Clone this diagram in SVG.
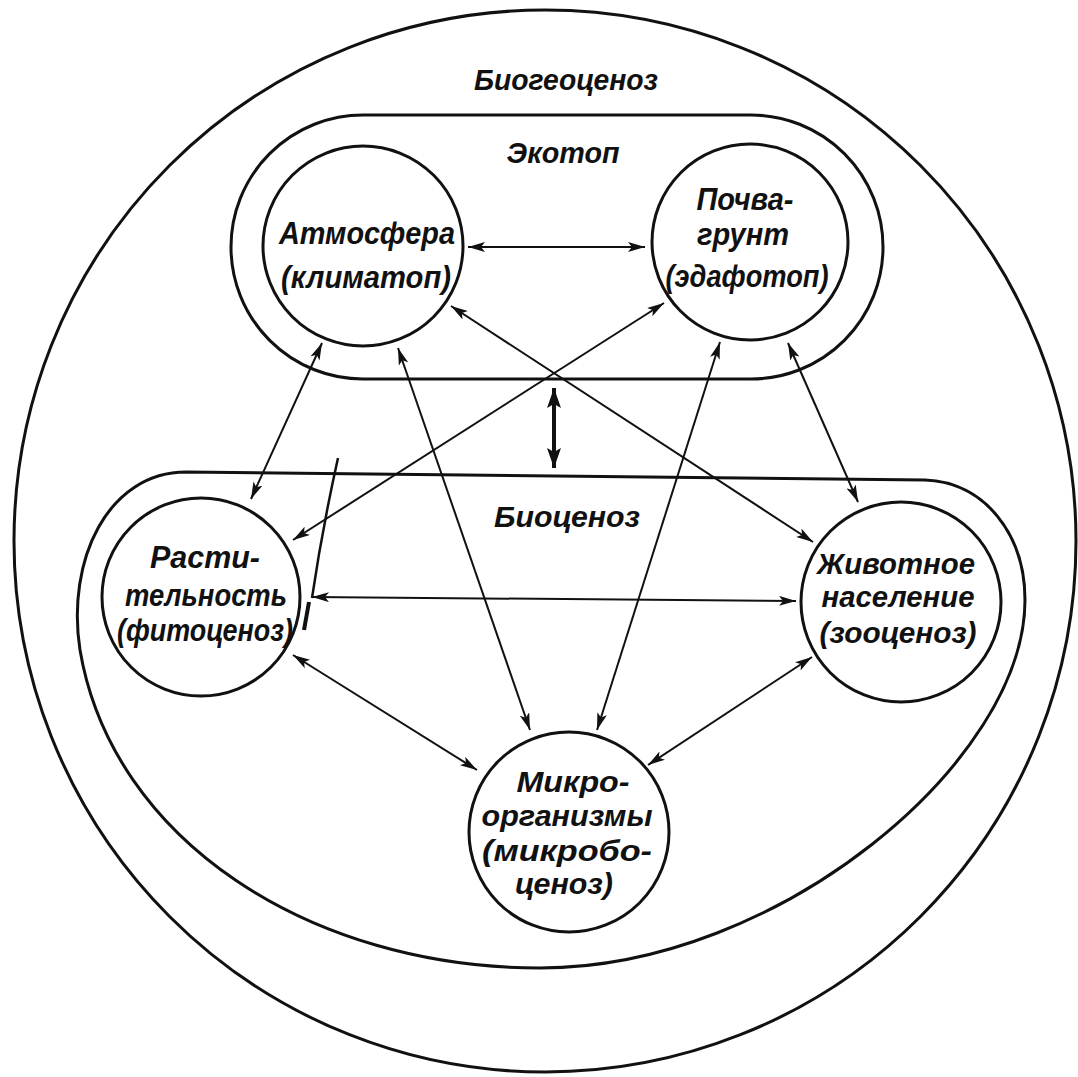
<svg xmlns="http://www.w3.org/2000/svg" width="1078" height="1077" viewBox="0 0 1078 1077">
<style>
.ring{fill:none;stroke:#111;stroke-width:3}
.node{fill:#fff;stroke:#111;stroke-width:3}
.lbl{font-family:"Liberation Sans","DejaVu Sans",sans-serif;font-style:italic;font-weight:bold;fill:#111;text-anchor:middle}
.big{font-size:30px}
.nt{font-size:31px}
.sm{font-size:29px}
.con{fill:none;stroke:#111;stroke-width:2;marker-start:url(#ah);marker-end:url(#ah)}
</style>
<defs>
<marker id="ah" viewBox="0 0 17 10" refX="17" refY="5" markerWidth="17" markerHeight="10" orient="auto-start-reverse" markerUnits="userSpaceOnUse">
<path d="M0,0 L17,5 L0,10 L4,5 z" fill="#111"/>
</marker>
<marker id="ahb" viewBox="0 0 20 14" refX="20" refY="7" markerWidth="20" markerHeight="14" orient="auto-start-reverse" markerUnits="userSpaceOnUse">
<path d="M0,0 L20,7 L0,14 L4,7 z" fill="#111"/>
</marker>
</defs>
<rect width="1078" height="1077" fill="#fff"/>
<g id="biogeocenosis">
<circle class="ring" cx="545" cy="541" r="531"/>
<text class="lbl big" x="566" y="90" textLength="184" lengthAdjust="spacingAndGlyphs">Биогеоценоз</text>
</g>
<g id="ecotope">
<rect class="ring" x="231" y="115" width="652" height="264" rx="132" ry="132"/>
<text class="lbl big" x="563" y="163" textLength="113" lengthAdjust="spacingAndGlyphs">Экотоп</text>
</g>
<g id="biocenosis">
<path class="ring" d="M186 472 L925 480 C985 482 1025 535 1025 600 C1025 760 780 968 540 968 C310 968 112 840 80 650 C66 560 108 472 186 472 Z"/>
<text class="lbl big" x="567" y="527" textLength="146" lengthAdjust="spacingAndGlyphs">Биоценоз</text>
</g>
<g id="connectors">
<line class="con" x1="468" y1="247" x2="645" y2="247"/>
<line class="con" x1="322" y1="343" x2="251" y2="499"/>
<line class="con" x1="398" y1="348" x2="530" y2="730"/>
<line class="con" x1="451" y1="306" x2="813" y2="542"/>
<line class="con" x1="664" y1="303" x2="293" y2="540"/>
<line class="con" x1="720" y1="342" x2="597" y2="730"/>
<line class="con" x1="788" y1="343" x2="858" y2="502"/>
<line class="con" x1="312" y1="597" x2="796" y2="601"/>
<line class="con" x1="293" y1="655" x2="477" y2="770"/>
<line class="con" x1="812" y1="657" x2="648" y2="765"/>
<line x1="554" y1="388" x2="554" y2="468" stroke="#111" stroke-width="4" marker-start="url(#ahb)" marker-end="url(#ahb)"/>
<path d="M338 458 Q322 530 312 598" fill="none" stroke="#111" stroke-width="2.5"/>
<line x1="309" y1="602" x2="304" y2="630" stroke="#111" stroke-width="4"/>
</g>
<g id="atmosphere">
<circle class="node" cx="363" cy="246" r="100"/>
<text class="lbl nt" x="367" y="244" textLength="176" lengthAdjust="spacingAndGlyphs">Атмосфера</text>
<text class="lbl nt" x="366" y="288" textLength="170" lengthAdjust="spacingAndGlyphs">(климатоп)</text>
</g>
<g id="soil">
<circle class="node" cx="750" cy="242" r="98"/>
<text class="lbl nt" x="745" y="210" textLength="97" lengthAdjust="spacingAndGlyphs">Почва-</text>
<text class="lbl nt" x="743" y="245" textLength="92" lengthAdjust="spacingAndGlyphs">грунт</text>
<text class="lbl nt" x="747" y="287" textLength="163" lengthAdjust="spacingAndGlyphs">(эдафотоп)</text>
</g>
<g id="vegetation">
<circle class="node" cx="201" cy="597" r="99"/>
<text class="lbl nt" x="205" y="568" textLength="110" lengthAdjust="spacingAndGlyphs">Расти-</text>
<text class="lbl nt" x="206" y="606" textLength="162" lengthAdjust="spacingAndGlyphs">тельность</text>
<text class="lbl nt" x="205" y="641" textLength="176" lengthAdjust="spacingAndGlyphs">(фитоценоз)</text>
</g>
<g id="animals">
<circle class="node" cx="901" cy="602" r="100"/>
<text class="lbl sm" x="896" y="574" textLength="158" lengthAdjust="spacingAndGlyphs">Животное</text>
<text class="lbl sm" x="898" y="607" textLength="153" lengthAdjust="spacingAndGlyphs">население</text>
<text class="lbl sm" x="898" y="643" textLength="157" lengthAdjust="spacingAndGlyphs">(зооценоз)</text>
</g>
<g id="microorganisms">
<circle class="node" cx="569" cy="832" r="100"/>
<text class="lbl sm" x="573" y="792" textLength="113" lengthAdjust="spacingAndGlyphs">Микро-</text>
<text class="lbl sm" x="567" y="826" textLength="171" lengthAdjust="spacingAndGlyphs">организмы</text>
<text class="lbl sm" x="567" y="861" textLength="170" lengthAdjust="spacingAndGlyphs">(микробо-</text>
<text class="lbl sm" x="564" y="894" textLength="98" lengthAdjust="spacingAndGlyphs">ценоз)</text>
</g>
</svg>
